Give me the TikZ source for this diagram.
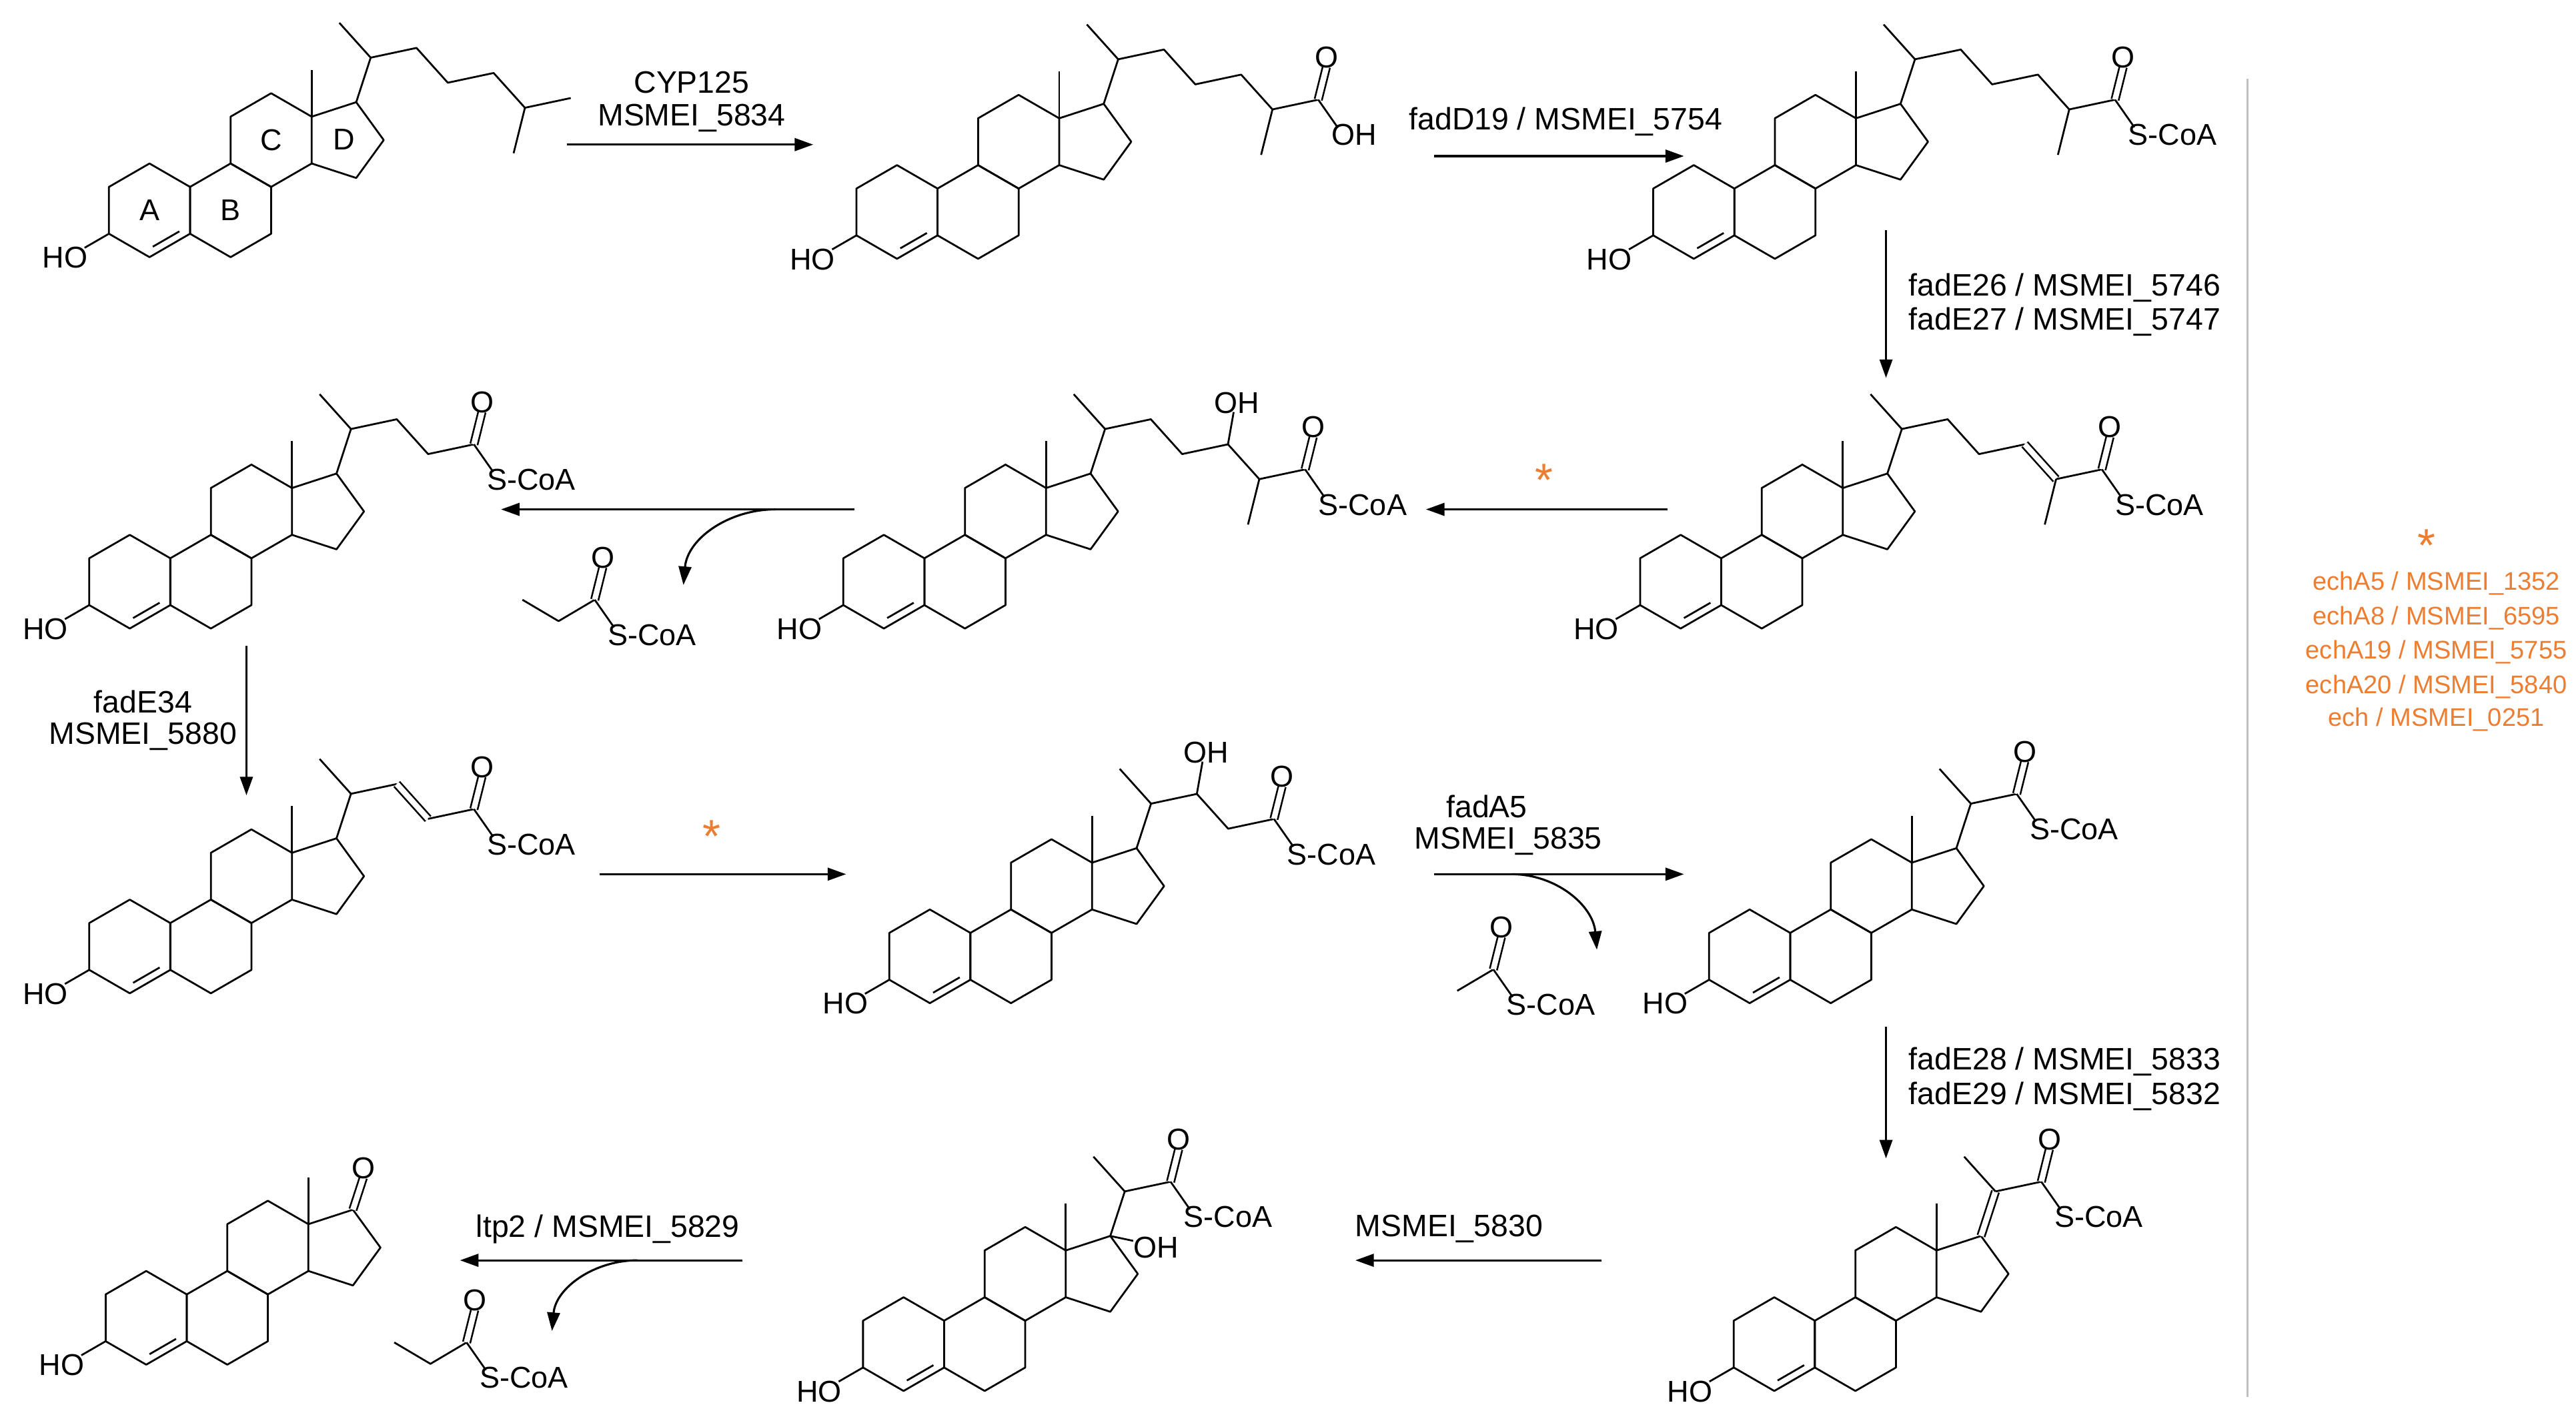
\documentclass[tikz,border=0pt]{standalone}
\usepackage{fontspec}
\setmainfont{Liberation Sans}
\usetikzlibrary{calc,arrows.meta}
\definecolor{orng}{RGB}{237,125,49}
\def\L{28.5}
\newcommand\hexa{\draw (30:\L)--(90:\L)--(150:\L)--(210:\L)--(270:\L)--(330:\L)--cycle;}
\newcommand\ster[2]{%
\begin{scope}[shift={(#1,-#2)}]
 \hexa
 \coordinate (A0) at (0,0);
 \coordinate (a210) at (210:\L); \coordinate (a270) at (270:\L); \coordinate (a330) at (330:\L);
 \begin{scope}[shift={(49.36,0)}]\hexa\coordinate (B0) at (0,0);\end{scope}
 \begin{scope}[shift={(74.04,42.75)}]\hexa\coordinate (CC) at (0,0);
   \coordinate (C13) at (30:\L); \coordinate (C14) at (-30:\L);\end{scope}
\end{scope}
\path (C13) ++(18:\L) coordinate (C17) ++(-54:\L) coordinate (C16) ++(-126:\L) coordinate (C15);
\draw (C13)--(C17)--(C16)--(C15)--(C14);
\draw (C13) -- ++(90:\L);
\draw[shorten <=3.5pt,shorten >=3.5pt] ($(a270)+(120:4.5)$) -- ($(a330)+(120:4.5)$);
\draw (a210) -- ++(210:0.6*\L) coordinate (ho);
\node[anchor=east,inner sep=0.5pt] at ($(ho)+(3,-6)$) {HO};
}
\newcommand\keto[1]{\draw[dbl] (#1) -- ++(76:0.72*\L) coordinate (ox);
 \node[anchor=south,inner sep=0.5pt] at ($(ox)+(0,-2)$) {O};}
\newcommand\sco[1]{\draw (#1) -- ++(-55:0.72*\L) coordinate (sx);
 \node[anchor=north west,inner sep=0.5pt] at ($(sx)+(-5,3)$) {S-CoA};}
\newcommand\chain{\draw (C17) -- ++(72:\L) coordinate (c20); \draw (c20) -- ++(132:\L);}
\begin{document}
\begin{tikzpicture}[x=0.025cm,y=0.025cm,line width=0.8pt,line join=round,
 every node/.style={font=\fontsize{13}{15}\selectfont,inner sep=1pt},
 rx/.style={line width=0.9pt,-{Triangle[length=8pt,width=5.5pt]}},
 dbl/.style={double distance=2.4pt,line width=0.75pt},
 lab/.style={font=\fontsize{13.4}{15}\selectfont},
 leg/.style={text=orng,font=\fontsize{11}{13}\selectfont},
 ast/.style={text=orng,font=\fontsize{20}{20}\selectfont}]
\useasboundingbox (0,0) rectangle (1568,-867);
\fill[white] (0,0) rectangle (1568,-867);
% M1
\ster{91}{128}
\chain
\draw (c20) -- ++(12:\L) coordinate(c22) -- ++(-48:\L) coordinate(c23) -- ++(12:\L) coordinate(c24) -- ++(-48:\L) coordinate(c25) -- ++(12:\L);
\draw (c25) -- ++(-104:\L);
\node (rA) at (A0) {A}; \node (rB) at (B0) {B}; \node (rC) at (CC) {C};
\node (rD) at ($(C14)!0.5!(C17)+(6,-4)$) {D};
% M2
\ster{546}{129}
\chain
\draw (c20) -- ++(12:\L) coordinate(c22) -- ++(-48:\L) coordinate(c23) -- ++(12:\L) coordinate(c24) -- ++(-48:\L) coordinate(c25) -- ++(12:\L) coordinate(c26);
\draw (c25) -- ++(-104:\L);
\keto{c26}
\draw (c26) -- ++(-55:0.72*\L) coordinate (sx);
\node[anchor=north west,inner sep=0.5pt] at ($(sx)+(-5,3)$) {OH};
% M3
\ster{1031}{129}
\chain
\draw (c20) -- ++(12:\L) coordinate(c22) -- ++(-48:\L) coordinate(c23) -- ++(12:\L) coordinate(c24) -- ++(-48:\L) coordinate(c25) -- ++(12:\L) coordinate(c26);
\draw (c25) -- ++(-104:\L);
\keto{c26}\sco{c26}
% M4
\ster{1023}{354}
\chain
\draw (c20) -- ++(12:\L) coordinate(c22) -- ++(-48:\L) coordinate(c23) -- ++(12:\L) coordinate(c24);
\draw[dbl] (c24) -- ++(-48:\L) coordinate(c25);
\draw (c25) -- ++(12:\L) coordinate(c26);
\draw (c25) -- ++(-104:\L);
\keto{c26}\sco{c26}
% M5
\ster{538}{354}
\chain
\draw (c20) -- ++(12:\L) coordinate(c22) -- ++(-48:\L) coordinate(c23) -- ++(12:\L) coordinate(c24) -- ++(-48:\L) coordinate(c25) -- ++(12:\L) coordinate(c26);
\draw (c25) -- ++(-104:\L);
\draw (c24) -- ++(80:0.7*\L) coordinate (ohx);
\node[anchor=south,inner sep=0.5pt] at ($(ohx)+(2,-2)$) {OH};
\keto{c26}\sco{c26}
% M6
\ster{79}{354}
\chain
\draw (c20) -- ++(12:\L) coordinate(c22) -- ++(-48:\L) coordinate(c23) -- ++(12:\L) coordinate(c24);
\keto{c24}\sco{c24}
% M7
\ster{79}{576}
\chain
\draw (c20) -- ++(12:\L) coordinate(c22);
\draw[dbl] (c22) -- ++(-48:\L) coordinate(c23);
\draw (c23) -- ++(12:\L) coordinate(c24);
\keto{c24}\sco{c24}
% M8
\ster{566}{582}
\chain
\draw (c20) -- ++(12:\L) coordinate(c22) -- ++(-48:\L) coordinate(c23) -- ++(12:\L) coordinate(c24);
\draw (c22) -- ++(80:0.7*\L) coordinate (ohx);
\node[anchor=south,inner sep=0.5pt] at ($(ohx)+(2,-2)$) {OH};
\keto{c24}\sco{c24}
% M9
\ster{1065}{582}
\chain
\draw (c20) -- ++(12:\L) coordinate(c22);
\keto{c22}\sco{c22}
% M10
\ster{1080}{818}
\draw[dbl] (C17) -- ++(72:\L) coordinate (c20); \draw (c20) -- ++(132:\L);
\draw (c20) -- ++(12:\L) coordinate(c22);
\keto{c22}\sco{c22}
% M11
\ster{550}{818}
\chain
\draw (c20) -- ++(12:\L) coordinate(c22);
\keto{c22}\sco{c22}
\draw (C17) -- ++(-12:0.5*\L) coordinate (ohy);
\node[anchor=west,inner sep=0.5pt] at ($(ohy)+(-1,-4)$) {OH};
% M12
\ster{89}{802}
\draw[dbl] (C17) -- ++(72:0.72*\L) coordinate (ox);
\node[anchor=south,inner sep=0.5pt] at ($(ox)+(0,-2)$) {O};
% small CoA esters
\draw (318,-365) -- (340,-378) coordinate (p2) -- (362,-365) coordinate (p3);
\keto{p3}\sco{p3}
\draw (240,-817) -- (262,-830) -- (284,-817) coordinate (q3);
\keto{q3}\sco{q3}
\draw (887,-603) -- (909,-590) coordinate (r3);
\keto{r3}\sco{r3}
% arrows
\coordinate (a1s) at (345,-88); \coordinate (a1e) at (495,-88);
\draw[rx] (a1s) -- (a1e);
\node[lab] (l1a) at (421,-50) {CYP125};
\node[lab] (l1b) at (421,-72) {MSMEI\_5834};
\coordinate (a2s) at (873,-95); \coordinate (a2e) at (1025,-95);
\draw[rx] (a2s) -- (a2e);
\node[lab] (l2) at (953,-74) {fadD19 / MSMEI\_5754};
\coordinate (a3s) at (1148,-140); \coordinate (a3e) at (1148,-230);
\draw[rx] (a3s) -- (a3e);
\node[lab,anchor=west] (l3a) at (1160,-175) {fadE26 / MSMEI\_5746};
\node[lab,anchor=west] (l3b) at (1160,-196) {fadE27 / MSMEI\_5747};
\coordinate (a4s) at (1015,-310); \coordinate (a4e) at (868,-310);
\draw[rx] (a4s) -- (a4e);
\node[ast] (s4) at (940,-292) {*};
\coordinate (a5s) at (520,-310); \coordinate (a5e) at (305,-310);
\draw[rx] (a5s) -- (a5e);
\coordinate (b5s) at (472,-310); \coordinate (b5e) at (416,-356);
\draw[rx] (b5s) to[out=180,in=85] (b5e);
\coordinate (a6s) at (150,-393); \coordinate (a6e) at (150,-484);
\draw[rx] (a6s) -- (a6e);
\node[lab] (l6a) at (87,-427) {fadE34};
\node[lab] (l6b) at (87,-448) {MSMEI\_5880};
\coordinate (a7s) at (365,-532); \coordinate (a7e) at (515,-532);
\draw[rx] (a7s) -- (a7e);
\node[ast] (s7) at (433,-509) {*};
\coordinate (a8s) at (873,-532); \coordinate (a8e) at (1025,-532);
\draw[rx] (a8s) -- (a8e);
\coordinate (b8s) at (920,-532); \coordinate (b8e) at (972,-578);
\draw[rx] (b8s) to[out=0,in=95] (b8e);
\node[lab] (l8a) at (905,-491) {fadA5};
\node[lab] (l8b) at (918,-512) {MSMEI\_5835};
\coordinate (a9s) at (1148,-625); \coordinate (a9e) at (1148,-705);
\draw[rx] (a9s) -- (a9e);
\node[lab,anchor=west] (l9a) at (1160,-646) {fadE28 / MSMEI\_5833};
\node[lab,anchor=west] (l9b) at (1160,-667) {fadE29 / MSMEI\_5832};
\coordinate (a10s) at (975,-767); \coordinate (a10e) at (825,-767);
\draw[rx] (a10s) -- (a10e);
\node[lab] (l10) at (882,-748) {MSMEI\_5830};
\coordinate (a11s) at (452,-767); \coordinate (a11e) at (280,-767);
\draw[rx] (a11s) -- (a11e);
\node[lab] (l11) at (370,-748) {ltp2 / MSMEI\_5829};
\coordinate (b11s) at (388,-767); \coordinate (b11e) at (336,-810);
\draw[rx] (b11s) to[out=180,in=85] (b11e);
% separator and legend
\coordinate (g1) at (1368,-48); \coordinate (g2) at (1368,-850);
\draw[gray!50,line width=0.7pt] (g1) -- (g2);
\node[ast] (lg0) at (1477,-332) {*};
\node[leg] (lg1) at (1483,-355) {echA5 / MSMEI\_1352};
\node[leg] (lg2) at (1483,-376) {echA8 / MSMEI\_6595};
\node[leg] (lg3) at (1483,-397) {echA19 / MSMEI\_5755};
\node[leg] (lg4) at (1483,-418) {echA20 / MSMEI\_5840};
\node[leg] (lg5) at (1483,-438) {ech / MSMEI\_0251};
\end{tikzpicture}
\end{document}
